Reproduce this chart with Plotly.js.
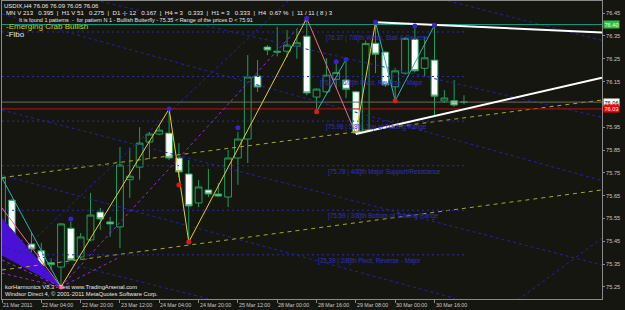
<!DOCTYPE html>
<html><head><meta charset="utf-8">
<script src="https://cdn.plot.ly/plotly-3.0.1.min.js"></script>
<style>html,body{margin:0;padding:0;background:#161610;overflow:hidden}</style>
</head><body><div id="chart" style="width:625px;height:310px"></div>
<script>
// ---- data ----
const barIndex = [0,1,2,3,4,5,6,7,8,9,10,11,12,13,14,15,16,17,18,19,20,21,22,23,24,25,26,27,28,29,30,31,32,33,34,35,36,37,38,39,40,41,42,43,44,45,46,47];
const openP  = [75.43,75.63,75.383,75.438,75.408,75.356,75.337,75.507,75.381,75.456,75.578,75.535,75.513,75.72,75.775,75.885,75.92,75.924,75.815,75.745,75.618,75.675,75.657,75.644,75.815,75.898,76.174,76.301,76.283,76.283,76.305,76.349,76.082,76.105,76.16,76.157,76.105,75.938,76.318,76.279,76.127,76.187,76.336,76.208,76.244,76.065,76.066,76.06];
const highP  = [75.73,75.635,75.456,75.49,75.443,75.375,75.53,75.535,75.486,75.662,75.596,75.557,75.863,75.86,75.95,75.929,75.96,76.03,75.88,75.806,75.718,75.767,75.705,75.85,75.93,76.266,76.244,76.31,76.39,76.376,76.38,76.427,76.12,76.253,76.23,76.25,76.11,76.33,76.41,76.283,76.21,76.345,76.393,76.346,76.397,76.113,76.157,76.09];
const lowP   = [75.42,75.395,75.339,75.355,75.324,75.324,75.25,75.365,75.368,75.45,75.50,75.47,75.42,75.64,75.72,75.81,75.915,75.806,75.73,75.447,75.60,75.644,75.644,75.60,75.697,75.793,76.104,76.266,76.26,76.257,76.25,76.09,76.025,76.10,76.12,76.077,75.92,75.93,76.187,76.126,76.073,76.18,76.19,76.17,75.996,76.056,76.04,76.05];
const closeP = [75.73,75.40,75.426,75.416,75.342,75.348,75.526,75.368,75.469,75.565,75.548,75.526,75.784,75.735,75.88,75.92,75.937,75.815,75.754,75.605,75.688,75.657,75.648,75.815,75.898,76.17,76.126,76.288,76.279,76.31,76.32,76.10,76.117,76.178,76.19,76.116,75.925,76.317,76.27,76.135,76.197,76.339,76.197,76.254,76.086,76.078,76.047,76.06];

const tickIndex  = [0,4,8,12,16,20,24,28,32,36,40,44];
const tickLabels = ["21 Mar 2011","22 Mar 04:00","22 Mar 20:00","23 Mar 12:00","24 Mar 04:00","24 Mar 20:00","25 Mar 12:00","28 Mar 00:00","28 Mar 16:00","29 Mar 08:00","30 Mar 00:00","30 Mar 16:00"];
const priceTicks = [76.45,76.35,76.25,76.15,75.95,75.85,75.75,75.65,75.55,75.45,75.35,75.25];
const priceTickText = ["76.45","76.35","76.25","76.15","75.95","75.85","75.75","75.65","75.55","75.45","75.35","75.25"];

// Murrey / fibo levels
const fiboLevels = [76.3672,76.1719,75.9766,75.7813,75.5859,75.3906];
const fiboLabels = ["[76.37 | 7/8]th Weak, Stall & Reverse","[76.17 | 6/8]th Pivot, Reverse - Major","[75.98 | 5/8]th Top of Trading Range","[75.78 | 4/8]th Major Support/Resistance","[75.59 | 3/8]th Bottom of Trading Range","[75.39 | 2/8]th Pivot, Reverse - Major"];
const fiboEnd = 47;

// horizontal price lines
const tealLevel = 76.40, bidLevel = 76.06, redLevel = 76.03;

// harmonic pattern points (bar index, price)
const zigX = [6,17,19,31];
const zigY = [75.25,76.03,75.447,76.427];
const zig2X = [36,38];
const zig2Y = [75.92,76.41];
const pinkX = [[0,6],[31,36]];
const pinkY = [[75.596,75.25],[76.427,75.92]];
const cyanX = [[0,6],[32,35],[38,40,44]];
const cyanY = [[75.727,75.25],[76.018,76.247],[76.41,76.066,76.397]];
const purpleDotX = [[6,31],[6,12],[0,6],[0,6]];
const purpleDotY = [[75.25,76.427],[75.25,75.381],[75.368,75.25],[75.31,75.25]];
const fillX = [0,6,0];
const fillY = [75.55,75.25,75.39];

// triangle trend lines
const whiteX = [[38,61.04],[36,61.04]];
const whiteY = [[76.41,76.365],[75.92,76.167]];

// diagonal channel lines [x1,y1,x2,y2]
const blueDiag = [[43,76.53,61.1,76.33],[7.1,76.53,61.04,75.993],[0,76.446,61.04,75.716],[0,76.025,61.04,75.346],[0,75.74,46.08,75.20],[0,75.425,21.46,75.193],[0,75.326,29.2,76.507],[52.5,75.193,61.04,75.464]];
const yellowDiag = [[0,75.729,61.04,76.069],[0,75.324,61.04,75.675]];

// fractal dots
const redDotX = [18,19,32,40], redDotY = [75.697,75.447,76.018,76.066];
const blueDotX = [7,17,24,31,34,35,38,42,44], blueDotY = [75.548,76.03,75.948,76.427,76.237,76.247,76.41,76.393,76.397];

// ---- drawing ----
const BG = '#161610';
const FONT = 'Liberation Sans, Arial, sans-serif';
const traces = [];
function line(xs, ys, color, width, dash){
  traces.push({type:'scatter', mode:'lines', x:xs, y:ys, line:{color:color, width:width, dash:dash||'solid'}, hoverinfo:'skip', showlegend:false});
}
traces.push({type:'scatter', mode:'lines', x:fillX, y:fillY, fill:'toself', fillcolor:'#4a10d8', line:{color:'#4a10d8', width:1}, hoverinfo:'skip', showlegend:false});
blueDiag.forEach(d => line([d[0],d[2]],[d[1],d[3]],'#2222a8',1,'3px,3px'));
yellowDiag.forEach(d => line([d[0],d[2]],[d[1],d[3]],'#a8a826',1,'4px,4px'));
fiboLevels.forEach(v => line([0,fiboEnd],[v,v],'#2a2ab0',1,'2px,3px'));
line([0,61.04],[tealLevel,tealLevel],'#14967e',1);
line([0,61.04],[bidLevel,bidLevel],'#6c6c5c',1);
line([0,61.04],[redLevel,redLevel],'#b01414',1);
purpleDotX.forEach((xs,k) => line(xs, purpleDotY[k], '#9a22ee', 1, 'dot'));
pinkX.forEach((xs,k) => line(xs, pinkY[k], '#f06898', 1));
cyanX.forEach((xs,k) => line(xs, cyanY[k], '#30b4b0', 1));
traces.push({type:'candlestick', x:barIndex, open:openP, high:highP, low:lowP, close:closeP,
  increasing:{line:{color:'#1e9e5a', width:1}, fillcolor:BG},
  decreasing:{line:{color:'#1e9e5a', width:1}, fillcolor:'#ffffff'},
  whiskerwidth:0, hoverinfo:'skip', showlegend:false});
line(zigX, zigY, '#e6d020', 1);
line(zig2X, zig2Y, '#e6d020', 1);
whiteX.forEach((xs,k) => line(xs, whiteY[k], '#ffffff', 2));
traces.push({type:'scatter', mode:'markers', x:redDotX, y:redDotY, marker:{color:'#e01818', size:5}, hoverinfo:'skip', showlegend:false});
traces.push({type:'scatter', mode:'markers', x:[zigX[0]], y:[zigY[0]], marker:{color:'#ff3a6a', size:5}, hoverinfo:'skip', showlegend:false});
traces.push({type:'scatter', mode:'markers', x:blueDotX, y:blueDotY, marker:{color:'#3a22c8', size:5}, hoverinfo:'skip', showlegend:false});

const PL = 2, PR = 602, PT = 1, PB = 299;
const px = v => (v-PL)/(PR-PL);
const py = v => 1-(v-PT)/(PB-PT);
const ann = [];
function txt(text, x, y, size, color){
  ann.push({text:text, xref:'paper', yref:'paper', x:px(x), y:py(y), xanchor:'left', yanchor:'middle', showarrow:false, borderpad:0, font:{family:FONT, size:size, color:color}});
}
txt('USDIX,H4 76.06 76.09 76.05 76.06', 3, 6, 6, '#e8e8e8');
txt('MN V 213   0.395  |  H1 V 51   0.275  |  D1 -|- 12   0.167  |  H4 = 3   0.333  |  H1 = 3   0.333  |  H4  0.67 %  |  11 / 11 ( 8 ) 3', 5, 13, 6.1, '#e8e8e8');
txt('It is found 1 patterns  -  for pattern N 1 - Bullish Butterfly - 75.35 < Range of the prices D < 75.91', 18, 19.5, 5.5, '#e8e8e8');
txt('-Emerging Crab Bullish', 5, 27, 8, '#cccc00');
txt('-Fibo', 5, 34.5, 8, '#e8e8e8');
txt('korHarmonics V8.3 - Test www.TradingArsenal.com', 4, 287, 5.8, '#e8e8e8');
txt('Windsor Direct 4, \u00a9 2001-2011 MetaQuotes Software Corp.', 4, 294, 5.8, '#e8e8e8');

const fiboLabelX = [32.9,32.2,32.9,33.1,33.1,32.0];
fiboLevels.forEach((v,k) => ann.push({text:fiboLabels[k], x:fiboLabelX[k], y:v, xref:'x', yref:'y', xanchor:'left', yanchor:'top', yshift:-1, showarrow:false, borderpad:0, font:{family:FONT, size:6.3, color:'#3030c0'}}));

tickIndex.forEach((t,k) => ann.push({text:tickLabels[k], x:t, y:0, xref:'x', yref:'paper', xanchor:'left', yanchor:'top', xshift:0, yshift:-2, showarrow:false, borderpad:0, font:{family:FONT, size:5.3, color:'#c8c8c8'}}));

function box(text, level, bg, fg){
  ann.push({text:text, x:1, y:level, xref:'paper', yref:'y', xanchor:'left', yanchor:'middle', xshift:1, showarrow:false, borderpad:0.5, bgcolor:bg, font:{family:FONT, size:5.6, color:fg}});
}
box('76.40', tealLevel, '#2dbe45', '#f0fff0');
box('76.06', bidLevel, '#ffffff', '#000000');
box('76.03', redLevel, '#ff0000', '#ffffff');

const layout = {
  width:625, height:310,
  margin:{l:PL, r:625-PR, t:PT, b:310-PB, pad:0},
  paper_bgcolor:BG, plot_bgcolor:BG,
  showlegend:false, boxgap:0.31, boxgroupgap:0,
  xaxis:{range:[0,61.04], showgrid:false, zeroline:false, tickvals:tickIndex, ticktext:tickLabels, showticklabels:false, ticks:'outside', ticklen:3, tickcolor:'#8a8a8a', showline:true, linecolor:'#8a8a8a', linewidth:1, mirror:true, rangeslider:{visible:false}, fixedrange:true},
  yaxis:{range:[75.197,76.503], side:'right', showgrid:false, zeroline:false, tickvals:priceTicks, ticktext:priceTickText, ticks:'outside', ticklen:2, tickcolor:'#8a8a8a', tickfont:{family:FONT, size:5.6, color:'#c8c8c8'}, showline:true, linecolor:'#8a8a8a', linewidth:1, mirror:true, fixedrange:true},
  annotations:ann
};
Plotly.newPlot('chart', traces, layout, {staticPlot:true, displayModeBar:false});
</script></body></html>
